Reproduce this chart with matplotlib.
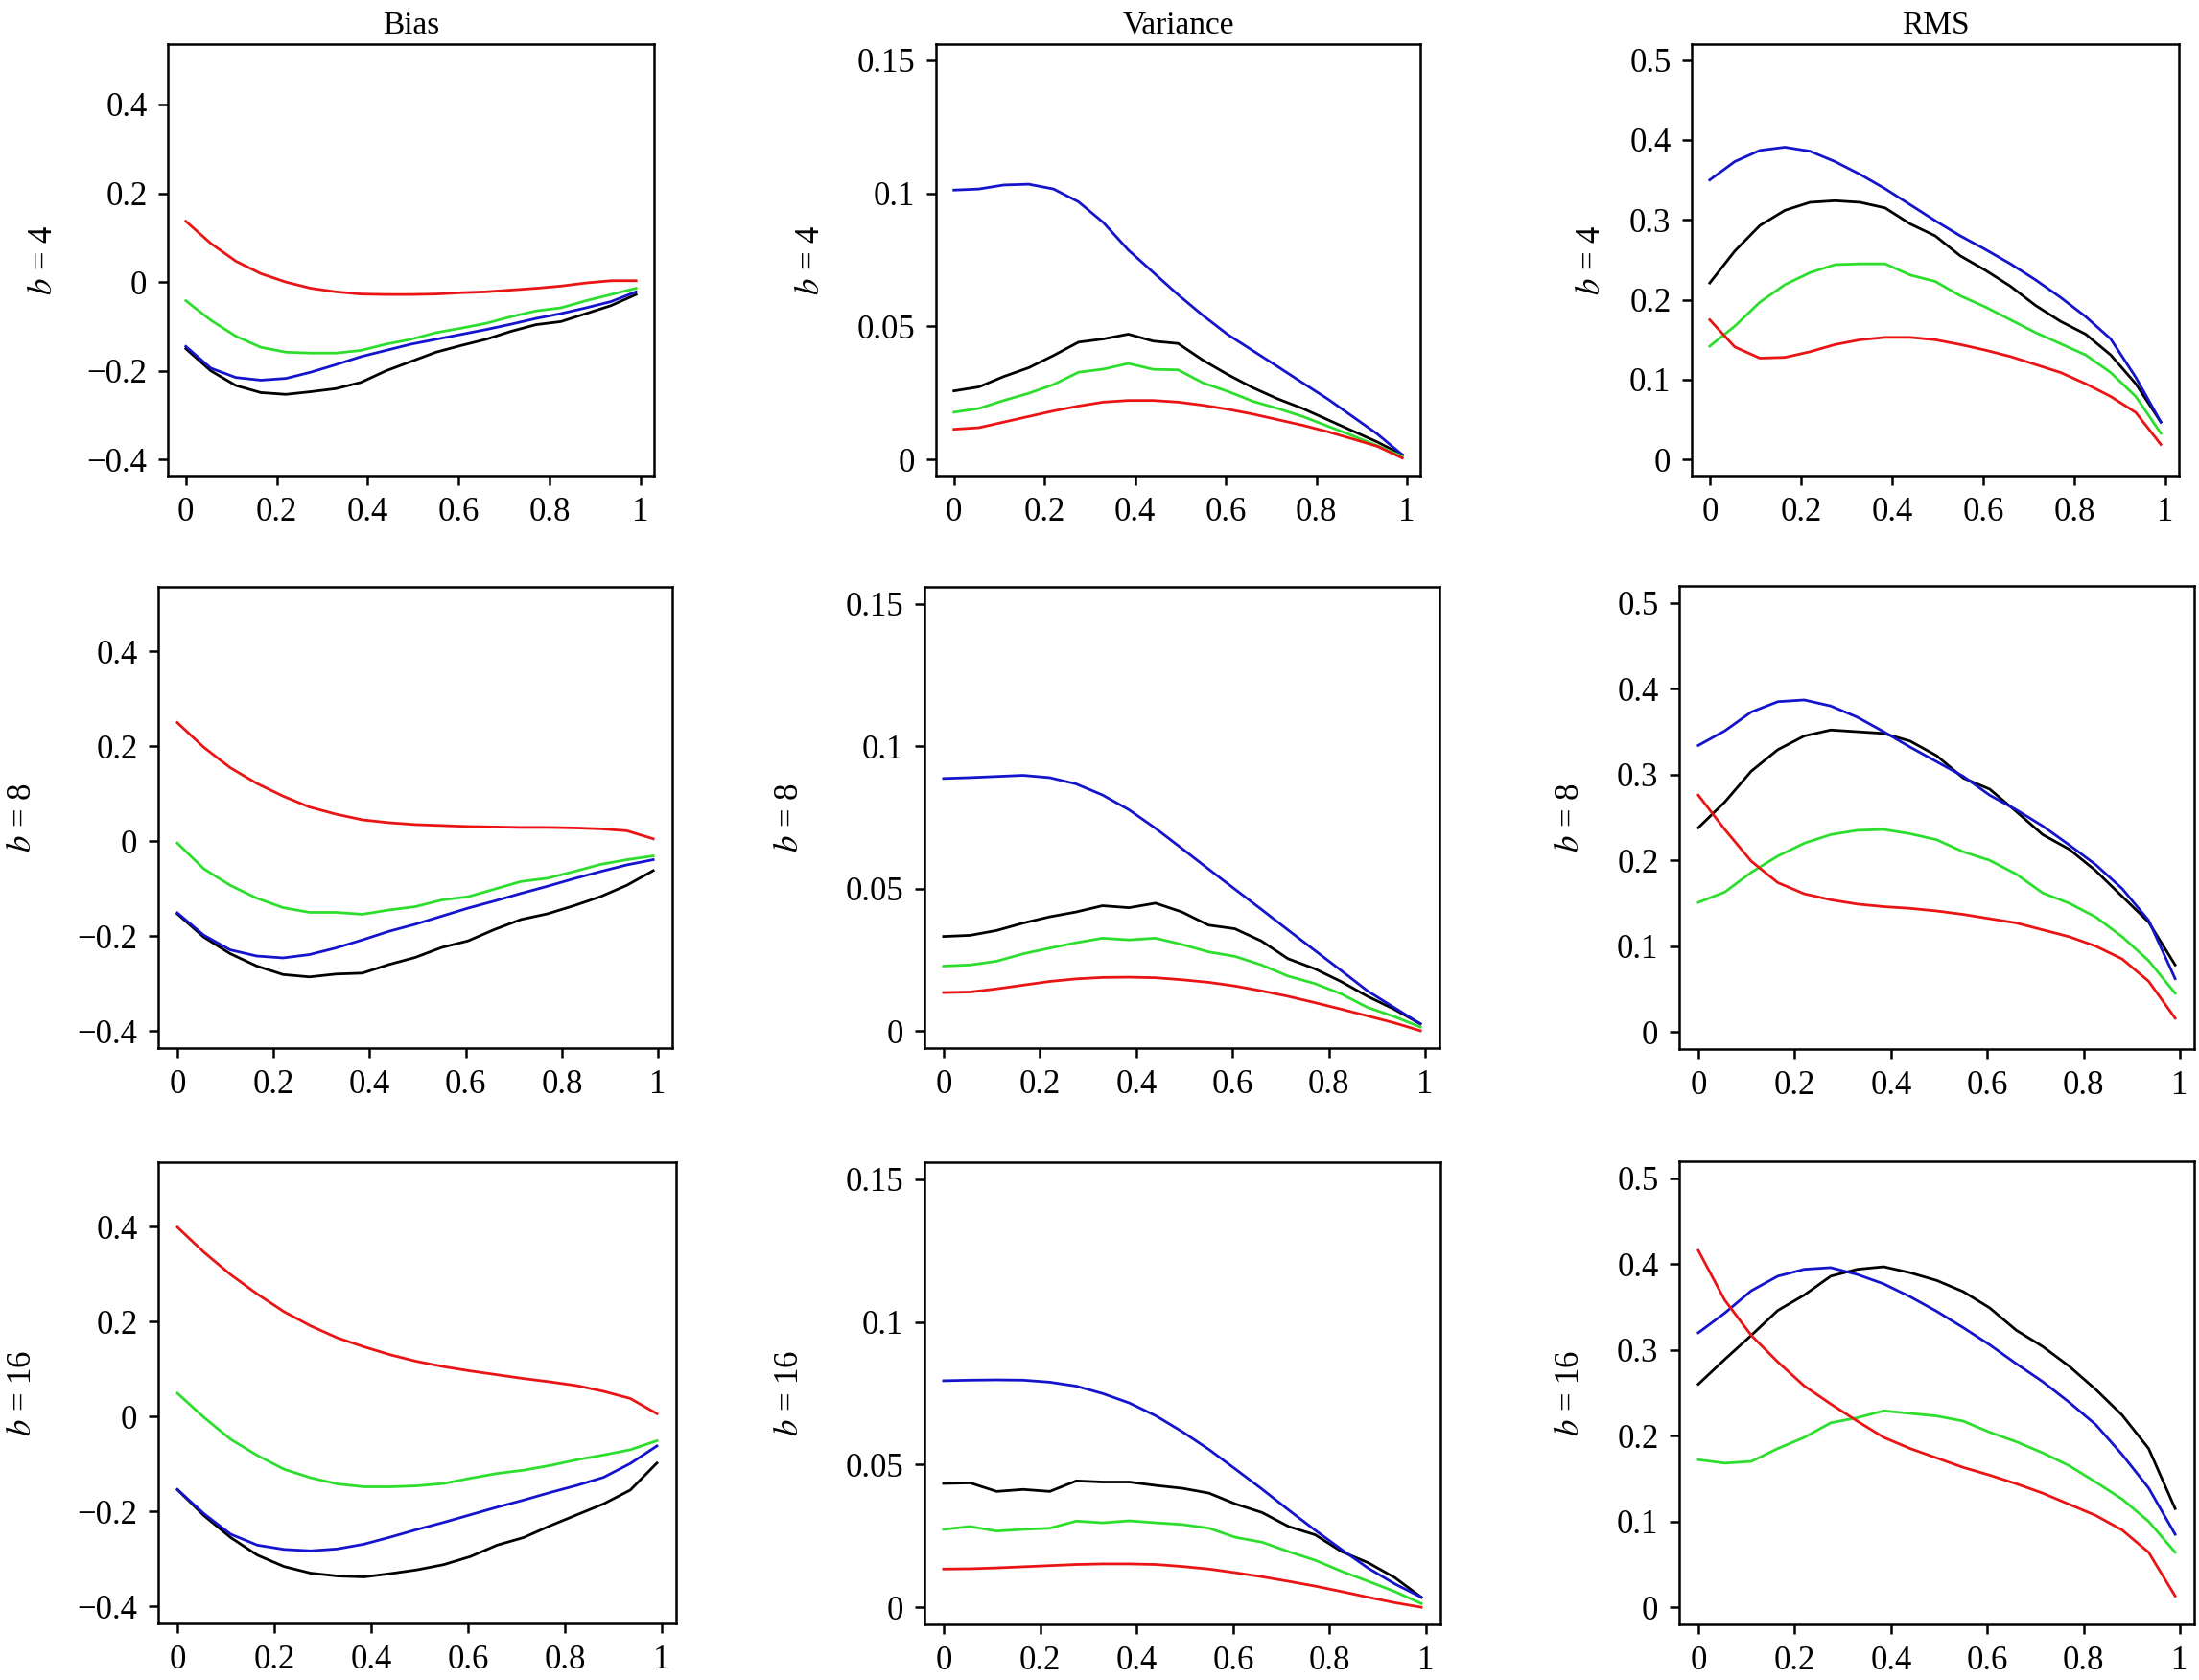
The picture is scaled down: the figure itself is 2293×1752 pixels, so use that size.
import matplotlib
matplotlib.use("Agg")
import matplotlib.pyplot as plt

plt.rcParams["font.family"] = ["Liberation Serif", "DejaVu Serif"]
plt.rcParams["mathtext.fontset"] = "stix"

# grid of evaluation points (shared by every panel)
x = [0.0, 0.055, 0.11, 0.165, 0.22, 0.275, 0.33, 0.385, 0.44, 0.495,
     0.55, 0.605, 0.66, 0.715, 0.77, 0.825, 0.88, 0.935, 0.99]

col_titles = ["Bias", "Variance", "RMS"]
row_b = [4, 8, 16]

# ---- b = 4 ----
bias4_red = [0.137, 0.087, 0.047, 0.019, 0.0, -0.014, -0.022, -0.027, -0.028, -0.028,
             -0.027, -0.024, -0.022, -0.018, -0.014, -0.009, -0.002, 0.003, 0.003]
bias4_green = [-0.042, -0.086, -0.122, -0.147, -0.158, -0.160, -0.160, -0.154, -0.140, -0.129,
               -0.114, -0.104, -0.093, -0.078, -0.065, -0.058, -0.042, -0.028, -0.014]
bias4_blue = [-0.145, -0.194, -0.215, -0.221, -0.217, -0.203, -0.186, -0.168, -0.154, -0.140,
              -0.129, -0.118, -0.107, -0.095, -0.082, -0.071, -0.058, -0.044, -0.022]
bias4_black = [-0.150, -0.200, -0.233, -0.249, -0.253, -0.247, -0.240, -0.226, -0.200, -0.179,
               -0.158, -0.143, -0.129, -0.111, -0.096, -0.089, -0.071, -0.053, -0.028]

var4_red = [0.0114, 0.0120, 0.0141, 0.0162, 0.0183, 0.0201, 0.0216, 0.0222, 0.0222, 0.0216,
            0.0204, 0.0189, 0.0171, 0.0150, 0.0129, 0.0105, 0.0078, 0.0050, 0.0006]
var4_green = [0.0178, 0.0192, 0.0222, 0.0249, 0.0282, 0.0328, 0.0340, 0.0361, 0.0339, 0.0337,
              0.0288, 0.0256, 0.0219, 0.0192, 0.0162, 0.0126, 0.0090, 0.0052, 0.0012]
var4_blue = [0.1012, 0.1016, 0.1031, 0.1034, 0.1016, 0.0968, 0.0890, 0.0787, 0.0703, 0.0619,
             0.0541, 0.0469, 0.0409, 0.0349, 0.0288, 0.0228, 0.0162, 0.0096, 0.0018]
var4_black = [0.0258, 0.0273, 0.0312, 0.0345, 0.0391, 0.0441, 0.0453, 0.0471, 0.0445, 0.0436,
              0.0373, 0.0319, 0.0270, 0.0228, 0.0192, 0.0150, 0.0108, 0.0066, 0.0018]

rms4_red = [0.175, 0.141, 0.127, 0.128, 0.135, 0.144, 0.150, 0.153, 0.153, 0.150,
            0.144, 0.137, 0.129, 0.119, 0.109, 0.095, 0.079, 0.059, 0.019]
rms4_green = [0.142, 0.167, 0.197, 0.219, 0.234, 0.244, 0.245, 0.245, 0.231, 0.223,
              0.205, 0.191, 0.175, 0.159, 0.145, 0.131, 0.109, 0.079, 0.033]
rms4_blue = [0.350, 0.373, 0.387, 0.391, 0.386, 0.373, 0.357, 0.339, 0.319, 0.299,
             0.280, 0.263, 0.245, 0.225, 0.203, 0.179, 0.151, 0.103, 0.047]
rms4_black = [0.221, 0.261, 0.293, 0.312, 0.322, 0.324, 0.322, 0.315, 0.295, 0.280,
              0.255, 0.237, 0.217, 0.193, 0.173, 0.157, 0.131, 0.095, 0.047]

# ---- b = 8 ----
bias8_red = [0.250, 0.198, 0.155, 0.122, 0.095, 0.072, 0.057, 0.045, 0.039, 0.035,
             0.033, 0.031, 0.030, 0.029, 0.029, 0.028, 0.026, 0.022, 0.005]
bias8_green = [-0.004, -0.058, -0.093, -0.120, -0.140, -0.150, -0.150, -0.154, -0.145, -0.138,
               -0.124, -0.117, -0.101, -0.085, -0.078, -0.064, -0.049, -0.039, -0.031]
bias8_blue = [-0.151, -0.198, -0.229, -0.242, -0.246, -0.239, -0.225, -0.208, -0.190, -0.175,
              -0.158, -0.141, -0.126, -0.110, -0.095, -0.079, -0.064, -0.050, -0.039]
bias8_black = [-0.153, -0.202, -0.237, -0.263, -0.281, -0.286, -0.280, -0.278, -0.260, -0.245,
               -0.224, -0.210, -0.186, -0.165, -0.153, -0.136, -0.117, -0.093, -0.062]

var8_red = [0.0135, 0.0137, 0.0148, 0.0161, 0.0174, 0.0183, 0.0188, 0.0189, 0.0187, 0.0180,
            0.0171, 0.0158, 0.0141, 0.0122, 0.0100, 0.0077, 0.0053, 0.0029, 0.0001]
var8_green = [0.0228, 0.0232, 0.0245, 0.0271, 0.0291, 0.0310, 0.0326, 0.0320, 0.0326, 0.0304,
              0.0278, 0.0262, 0.0232, 0.0193, 0.0167, 0.0131, 0.0083, 0.0051, 0.0014]
var8_blue = [0.0887, 0.0890, 0.0894, 0.0898, 0.0890, 0.0868, 0.0829, 0.0777, 0.0712, 0.0641,
             0.0569, 0.0498, 0.0427, 0.0355, 0.0284, 0.0213, 0.0141, 0.0083, 0.0025]
var8_black = [0.0332, 0.0336, 0.0353, 0.0379, 0.0401, 0.0418, 0.0440, 0.0433, 0.0449, 0.0418,
              0.0372, 0.0359, 0.0316, 0.0254, 0.0219, 0.0174, 0.0122, 0.0077, 0.0025]

rms8_red = [0.276, 0.236, 0.199, 0.174, 0.161, 0.154, 0.149, 0.146, 0.144, 0.141,
            0.137, 0.132, 0.127, 0.119, 0.111, 0.100, 0.085, 0.059, 0.016]
rms8_green = [0.151, 0.163, 0.186, 0.205, 0.220, 0.230, 0.235, 0.236, 0.231, 0.224,
              0.210, 0.200, 0.184, 0.162, 0.150, 0.134, 0.111, 0.083, 0.045]
rms8_blue = [0.334, 0.351, 0.373, 0.385, 0.387, 0.380, 0.367, 0.350, 0.332, 0.315,
             0.298, 0.276, 0.259, 0.240, 0.218, 0.195, 0.167, 0.130, 0.062]
rms8_black = [0.238, 0.268, 0.304, 0.329, 0.345, 0.352, 0.350, 0.348, 0.339, 0.322,
              0.296, 0.283, 0.257, 0.230, 0.213, 0.188, 0.158, 0.128, 0.078]

# ---- b = 16 ----
bias16_red = [0.399, 0.346, 0.299, 0.258, 0.221, 0.191, 0.166, 0.147, 0.130, 0.116,
              0.105, 0.096, 0.088, 0.080, 0.073, 0.065, 0.053, 0.038, 0.006]
bias16_green = [0.049, -0.002, -0.048, -0.082, -0.111, -0.129, -0.142, -0.148, -0.148, -0.146,
                -0.141, -0.130, -0.120, -0.113, -0.103, -0.091, -0.081, -0.070, -0.051]
bias16_blue = [-0.154, -0.205, -0.248, -0.271, -0.280, -0.283, -0.279, -0.269, -0.254, -0.238,
               -0.223, -0.207, -0.191, -0.176, -0.160, -0.145, -0.128, -0.099, -0.062]
bias16_black = [-0.154, -0.209, -0.255, -0.292, -0.316, -0.330, -0.336, -0.338, -0.331, -0.323,
                -0.312, -0.295, -0.271, -0.255, -0.230, -0.207, -0.184, -0.155, -0.098]

var16_red = [0.0134, 0.0135, 0.0138, 0.0142, 0.0146, 0.0150, 0.0152, 0.0152, 0.0150, 0.0143,
             0.0134, 0.0121, 0.0107, 0.0091, 0.0074, 0.0055, 0.0035, 0.0016, 0.0000]
var16_green = [0.0273, 0.0283, 0.0267, 0.0273, 0.0277, 0.0302, 0.0296, 0.0303, 0.0296, 0.0290,
               0.0277, 0.0245, 0.0228, 0.0195, 0.0165, 0.0126, 0.0091, 0.0055, 0.0013]
var16_blue = [0.0794, 0.0796, 0.0797, 0.0796, 0.0789, 0.0775, 0.0749, 0.0716, 0.0671, 0.0615,
              0.0553, 0.0484, 0.0414, 0.0341, 0.0270, 0.0202, 0.0137, 0.0082, 0.0035]
var16_black = [0.0434, 0.0436, 0.0406, 0.0413, 0.0406, 0.0443, 0.0439, 0.0439, 0.0427, 0.0417,
               0.0400, 0.0362, 0.0332, 0.0283, 0.0254, 0.0195, 0.0156, 0.0104, 0.0035]

rms16_red = [0.416, 0.358, 0.317, 0.286, 0.258, 0.237, 0.217, 0.198, 0.185, 0.174,
             0.163, 0.154, 0.144, 0.133, 0.120, 0.107, 0.090, 0.064, 0.013]
rms16_green = [0.172, 0.168, 0.170, 0.185, 0.198, 0.215, 0.221, 0.229, 0.226, 0.223,
               0.217, 0.204, 0.193, 0.180, 0.165, 0.146, 0.126, 0.100, 0.064]
rms16_blue = [0.320, 0.343, 0.369, 0.386, 0.394, 0.396, 0.388, 0.377, 0.362, 0.345,
              0.326, 0.306, 0.284, 0.263, 0.239, 0.213, 0.178, 0.139, 0.085]
rms16_black = [0.260, 0.289, 0.317, 0.346, 0.364, 0.386, 0.394, 0.397, 0.390, 0.381,
               0.368, 0.349, 0.323, 0.304, 0.281, 0.254, 0.224, 0.185, 0.115]

# tick values / labels per column
x_ticks = [0, 0.2, 0.4, 0.6, 0.8, 1]
x_ticklabels = ["0", "0.2", "0.4", "0.6", "0.8", "1"]
bias_ticks = [-0.4, -0.2, 0, 0.2, 0.4]
bias_ticklabels = ["\u22120.4", "\u22120.2", "0", "0.2", "0.4"]
var_ticks = [0, 0.05, 0.1, 0.15]
var_ticklabels = ["0", "0.05", "0.1", "0.15"]
rms_ticks = [0, 0.1, 0.2, 0.3, 0.4, 0.5]
rms_ticklabels = ["0", "0.1", "0.2", "0.3", "0.4", "0.5"]

panels = [
    [(bias4_black, bias4_blue, bias4_green, bias4_red),
     (var4_black, var4_blue, var4_green, var4_red),
     (rms4_black, rms4_blue, rms4_green, rms4_red)],
    [(bias8_black, bias8_blue, bias8_green, bias8_red),
     (var8_black, var8_blue, var8_green, var8_red),
     (rms8_black, rms8_blue, rms8_green, rms8_red)],
    [(bias16_black, bias16_blue, bias16_green, bias16_red),
     (var16_black, var16_blue, var16_green, var16_red),
     (rms16_black, rms16_blue, rms16_green, rms16_red)],
]
col_ticks = [(bias_ticks, bias_ticklabels, (-0.4, 0.5)),
             (var_ticks, var_ticklabels, (0.0, 0.15)),
             (rms_ticks, rms_ticklabels, (0.0, 0.5))]
line_colors = ["black", "#1414cc", "#2ede2e", "#ea1414"]

# axes boxes in pixels: (left, top, right, bottom)
W, H = 2293, 1752
boxes = [
    [(175, 46, 682, 496), (976, 46, 1481, 496), (1764, 46, 2272, 496)],
    [(165, 612, 701, 1093), (964, 612, 1501, 1093), (1751, 611, 2288, 1094)],
    [(165, 1212, 705, 1693), (964, 1212, 1502, 1694), (1751, 1211, 2288, 1694)],
]
label_x = [[45, 845, 1660], [24, 824, 1637], [24, 824, 1637]]

fig = plt.figure(figsize=(W / 100, H / 100), dpi=100)

for r in range(3):
    for c in range(3):
        l, t, rr, b = boxes[r][c]
        ax = fig.add_axes([l / W, 1 - b / H, (rr - l) / W, (b - t) / H])
        for yv, col in zip(panels[r][c], line_colors):
            ax.plot(x, yv, color=col, lw=2.0)
        ticks, labels, (lo, hi) = col_ticks[c]
        pad = 0.04 * (hi - lo)
        ax.set_ylim(lo - pad, hi + pad)
        ax.set_xlim(-0.04 * 0.99, 0.99 * 1.04)
        ax.set_xticks(x_ticks)
        ax.set_xticklabels(x_ticklabels)
        ax.set_yticks(ticks)
        ax.set_yticklabels(labels)
        ax.tick_params(direction="out", length=7.5, width=1.8, labelsize=25, pad=8)
        for s in ax.spines.values():
            s.set_linewidth(1.8)
        if r == 0:
            ax.set_title(col_titles[c], fontsize=24, pad=8)
        yc = 1 - (t + b) / 2 / H
        fig.text(label_x[r][c] / W, yc, "$b$ = %d" % row_b[r], rotation=90,
                 ha="center", va="center", fontsize=25)

fig.savefig("out.png", dpi=100)
